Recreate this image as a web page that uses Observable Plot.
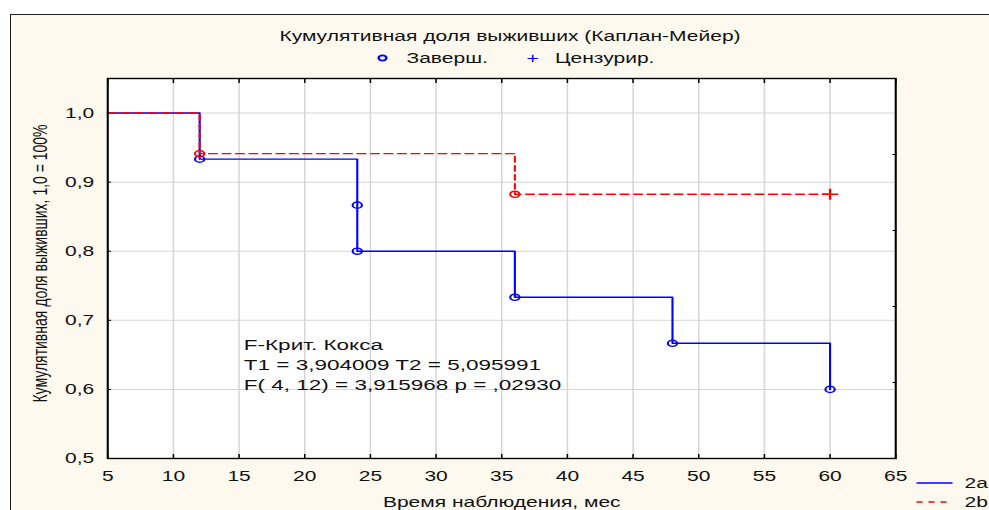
<!DOCTYPE html>
<html><head><meta charset="utf-8">
<script src="https://cdn.jsdelivr.net/npm/d3@7"></script>
<script src="https://cdn.jsdelivr.net/npm/@observablehq/plot@0.6"></script>
<style>
html,body{margin:0;padding:0;background:#fff;overflow:hidden;width:989px;height:510px;font-family:"Liberation Sans",Arial,sans-serif;color:#111;}
#outer{position:absolute;left:10px;top:14px;width:1200px;height:600px;border:1px solid #222;background:#fdf9ee;}
#stage{position:absolute;left:0;top:0;width:659.33px;height:510px;transform:scaleX(1.5);transform-origin:0 0;}
#header{position:relative;height:68px;font-size:14px;}
#title{position:absolute;left:0;width:680px;top:27px;text-align:center;line-height:18px;}
.lg{position:absolute;line-height:16px;font-size:14px;white-space:nowrap;}
svg.sw{position:absolute;overflow:visible;}
</style></head>
<body>
<div id="outer"></div>
<div id="stage">
  <div id="header">
    <div id="title"></div>
    <svg class="sw" style="left:251px;top:54px" width="8" height="8"><circle cx="4" cy="4" r="2.6" fill="none" stroke="#0000ff" stroke-width="1.6"/></svg>
    <div class="lg" id="lgDone" style="left:271px;top:50px"></div>
    <div class="lg" style="left:351px;top:50px;color:#0000ff">+</div>
    <div class="lg" id="lgCens" style="left:370px;top:50px"></div>
  </div>
  <div id="chart"></div>
  <svg class="sw" style="left:611px;top:483px" width="24" height="2"><line x1="0" x2="24" y1="0" y2="0" stroke="#0000ff" stroke-width="1.5"/></svg>
  <div class="lg" id="lgA" style="left:643px;top:475px"></div>
  <svg class="sw" style="left:611px;top:502px" width="24" height="2"><line x1="0" x2="24" y1="0" y2="0" stroke="#ff0000" stroke-width="1.5" stroke-dasharray="4,4"/></svg>
  <div class="lg" id="lgB" style="left:643px;top:494px"></div>
</div>
<script>
// ---- data ----
const titleText = "Кумулятивная доля выживших (Каплан-Мейер)";
const legendDone = "Заверш.";
const legendCens = "Цензурир.";
const seriesNames = ["2a", "2b"];
const xLabel = "Время наблюдения, мес";
const yLabel = "Кумулятивная доля выживших, 1,0 = 100%";
const annotation = ["F-Крит. Кокса", "T1 = 3,904009 T2 = 5,095991", "F( 4, 12) = 3,915968 p = ,02930"];

const xTicks = [5, 10, 15, 20, 25, 30, 35, 40, 45, 50, 55, 60, 65];
const yTicks = [0.5, 0.6, 0.7, 0.8, 0.9, 1.0];
const yRightTicks = [0.61, 0.72, 0.83, 0.94];

// series 2a (step curve + complete-event markers)
const timeA = [5, 12, 24, 36, 48, 60];
const survA = [1.0, 0.9333, 0.8, 0.7333, 0.6667, 0.6];
const eventTimeA = [12, 24, 24, 36, 48, 60];
const eventSurvA = [0.9333, 0.8667, 0.8, 0.7333, 0.6667, 0.6];

// series 2b
const timeB = [5, 12, 36, 60];
const survB = [1.0, 0.9412, 0.8824, 0.8824];
const eventTimeB = [12, 36];
const eventSurvB = [0.9412, 0.8824];
const censTimeB = [60];
const censSurvB = [0.8824];

// ---- build ----
document.getElementById("title").textContent = titleText;
document.getElementById("lgDone").textContent = legendDone;
document.getElementById("lgCens").textContent = legendCens;
document.getElementById("lgA").textContent = seriesNames[0];
document.getElementById("lgB").textContent = seriesNames[1];

const zip = (xs, ys) => xs.map((x, i) => ({x, y: ys[i]}));
const lineA = zip(timeA, survA), dotsA = zip(eventTimeA, eventSurvA);
const lineB = zip(timeB, survB), dotsB = zip(eventTimeB, eventSurvB), censB = zip(censTimeB, censSurvB);

const W = 989 / 1.5;
const fmt = d => d.toFixed(1).replace(".", ",");
const blue = "#0000ff", red = "#ff0000";
const noText = () => "";

const chart = Plot.plot({
  width: W, height: 442,
  marginLeft: 71.33, marginRight: W - 596.67, marginTop: 10, marginBottom: 52,
  x: {domain: [5, 65]},
  y: {domain: [0.5, 1.05]},
  style: {fontFamily: '"Liberation Sans", Arial, sans-serif', fontSize: "14px", color: "#111", background: "transparent", overflow: "visible"},
  marks: [
    Plot.frame({fill: "white", stroke: null}),
    Plot.gridX(xTicks.slice(1, -1), {stroke: "#d6d6d6", strokeOpacity: 1, strokeWidth: 1}),
    Plot.gridY(yTicks.slice(1), {stroke: "#d6d6d6", strokeOpacity: 1, strokeWidth: 1}),
    Plot.axisX(xTicks, {tickSize: 0, tickPadding: 13, tickFormat: d => String(d), label: null, fontSize: 14}),
    Plot.axisX(xTicks, {tickSize: -4, tickFormat: noText, label: null, stroke: "#000"}),
    Plot.axisX(xTicks, {anchor: "top", tickSize: -4, tickFormat: noText, label: null, stroke: "#000"}),
    Plot.axisY(yTicks, {tickSize: 0, tickPadding: 9, tickFormat: fmt, label: null, fontSize: 14}),
    Plot.axisY(yTicks, {tickSize: -2.7, tickFormat: noText, label: null, stroke: "#000"}),
    Plot.axisY(yRightTicks, {anchor: "right", tickSize: -2.7, tickFormat: noText, label: null, stroke: "#000"}),
    Plot.line(lineA, {x: "x", y: "y", curve: "step-after", stroke: blue, strokeWidth: 1.4}),
    Plot.dot(dotsA, {x: "x", y: "y", r: 3.1, stroke: blue, fill: "none", strokeWidth: 1.4}),
    Plot.line(lineB, {x: "x", y: "y", curve: "step-after", stroke: red, strokeWidth: 1.4, strokeDasharray: "5.5,3.5"}),
    Plot.dot(dotsB, {x: "x", y: "y", r: 3.1, stroke: red, fill: "none", strokeWidth: 1.4}),
    Plot.dot(censB, {x: "x", y: "y", symbol: "plus", r: 3.6, stroke: red, strokeWidth: 1.6}),
    Plot.frame({stroke: "#000", strokeWidth: 1.4}),
    Plot.text([yLabel], {text: d => d, frameAnchor: "left", textAnchor: "middle", lineAnchor: "middle", rotate: -90, dx: -45, dy: -5, fontSize: 14, fill: "#111"}),
    Plot.text([xLabel], {text: d => d, frameAnchor: "bottom", textAnchor: "middle", lineAnchor: "middle", dy: 44, fontSize: 14, fill: "#111"}),
    Plot.text([annotation.join("\n")], {text: d => d, frameAnchor: "top-left", dx: 90.7, dy: 285, textAnchor: "start", lineAnchor: "middle", lineHeight: 1.333, fontSize: 15, fill: "#111"})
  ]
});
document.getElementById("chart").appendChild(chart);
</script>
</body></html>
